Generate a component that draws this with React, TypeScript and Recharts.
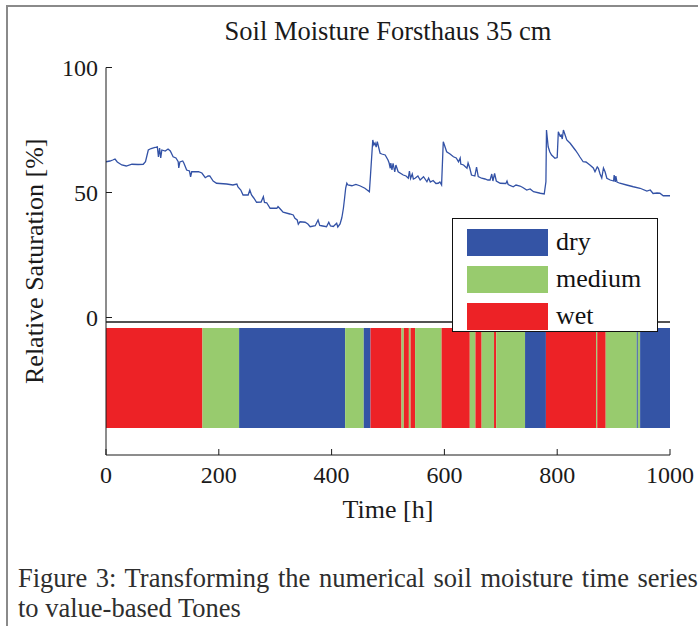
import {
  ComposedChart,
  Line,
  XAxis,
  YAxis,
  ReferenceArea,
  ReferenceLine,
  Legend,
} from "recharts";

const hours = [
  0, 7, 12, 16, 20, 28, 36, 46, 57, 66, 70, 75, 80, 87, 91, 93, 95, 97, 99, 105,
  110, 114, 119, 124, 128, 129, 131, 136, 138, 143, 148, 150, 152, 164, 170, 176, 181, 184, 190, 196,
  214, 225, 232, 234, 239, 243, 252, 255, 258, 262, 267, 275, 279, 281, 285, 291, 303, 305, 309, 314,
  326, 332, 335, 339, 341, 344, 353, 358, 362, 371, 376, 379, 382, 391, 395, 398, 403, 409, 411, 415,
  418, 419, 421, 423, 425, 427, 429, 436, 443, 450, 459, 467, 469, 473, 475, 477, 479, 481, 486, 489,
  495, 500, 502, 504, 505, 507, 509, 512, 514, 518, 527, 532, 536, 538, 540, 543, 545, 548, 553, 557,
  563, 569, 572, 575, 580, 585, 589, 592, 595, 598, 600, 604, 610, 616, 621, 625, 628, 629, 634, 640,
  642, 645, 648, 654, 657, 660, 666, 672, 677, 681, 684, 686, 689, 692, 699, 709, 711, 713, 722, 727,
  734, 739, 746, 752, 758, 770, 777, 780, 781, 784, 787, 790, 796, 800, 802, 805, 807, 809, 811, 814,
  817, 823, 832, 837, 840, 846, 851, 858, 864, 867, 871, 873, 876, 879, 882, 885, 888, 894, 900, 901,
  903, 904, 906, 911, 923, 935, 947, 959, 965, 970, 977, 982, 988, 1000,
];

// relative saturation [%]
const saturation = [
  62.3, 62.6, 63, 63.4, 62.2, 61, 60.6, 61.3, 61.2, 61.3, 62.3, 67, 67.6, 68, 68.3, 64.2, 67.8, 63.8, 67, 66.6,
  67.4, 66.6, 64.3, 63.8, 62.3, 59.8, 62.2, 62.6, 61.8, 59, 58.6, 56.3, 58.3, 58.3, 57.8, 55.9, 56.6, 56.6, 54.6, 53.7,
  53.4, 53, 53.4, 52.2, 51, 49, 49, 51, 49, 47.8, 46.1, 46.2, 48.3, 46, 45.9, 43.7, 43.7, 44.4, 43.4, 42.1,
  41.4, 41, 39.7, 39, 37.3, 38.3, 38.1, 37.4, 36.3, 36.7, 39, 36.8, 36.7, 36.3, 38.1, 36.6, 36.4, 37.7, 36.2, 37.4,
  39.8, 41, 43.8, 47.7, 51.8, 53.7, 53, 52.7, 53.2, 52.7, 51.7, 50.3, 57, 71, 69, 69.8, 68.2, 70.3, 65.7, 65.4,
  65, 63, 61.8, 59.7, 61.8, 59, 61.7, 58.2, 61, 58.3, 57, 56.6, 55.7, 58.6, 55.6, 57.4, 55.4, 55.7, 56.6, 55,
  56.3, 54.3, 55.8, 54.2, 54.8, 53.6, 53.7, 54.2, 53, 70.3, 69, 66.3, 65.4, 64.3, 63.8, 62.3, 63.8, 61.4, 61, 59.7,
  61.8, 59.8, 57, 56.6, 60.2, 56.4, 55.7, 55.4, 55, 55, 57.4, 54.6, 57.6, 54.6, 53.7, 53.6, 54.6, 53.2, 52.3, 53,
  52.6, 52, 51, 51.4, 50.3, 49.7, 49.4, 54.3, 75, 68.3, 66.2, 65, 63.7, 64, 74.3, 72.6, 73, 71.4, 75, 73,
  71, 69.7, 67, 65.4, 64.3, 62.3, 62.2, 61, 59.8, 58.3, 60.2, 59.7, 57.4, 55.8, 59.8, 58.2, 55.7, 55, 54.6, 57,
  54.2, 56.6, 54.2, 53.7, 53, 52.3, 51.7, 50.6, 51, 49.6, 49.8, 49.7, 48.7, 48.7,
];

// tone segments: boundaries [h] and the class of each segment
const toneBreaks = [
  0, 171, 236, 424, 457, 469, 524, 528, 537, 540, 548, 595, 645, 655, 666, 688, 692, 743, 780, 869, 871,
  886, 941, 943, 947, 1000,
];
const toneClass = [
  "wet", "medium", "dry", "medium", "dry", "wet", "medium", "wet", "medium", "wet", "medium", "wet",
  "medium", "wet", "medium", "wet", "medium", "dry", "wet", "medium", "wet", "medium", "dry", "medium", "dry",
];

const toneNames = ["dry", "medium", "wet"];
const toneColors: Record<string, string> = {
  dry: "#3454a5",
  medium: "#98cb6e",
  wet: "#ed2226",
};

const xTicks = [0, 200, 400, 600, 800, 1000];
const yTicks = [0, 50, 100];

const serif = '"Liberation Serif", "Times New Roman", serif';

const series = hours.map((t, i) => ({ t, v: saturation[i] }));

function ToneLegend() {
  return (
    <div
      style={{
        width: 206,
        height: 114,
        boxSizing: "border-box",
        border: "1.5px solid #111",
        background: "#fff",
        position: "relative",
        fontFamily: serif,
      }}
    >
      {toneNames.map((name, i) => (
        <div key={name}>
          <div
            style={{
              position: "absolute",
              left: 14,
              top: 10 + i * 37,
              width: 81,
              height: 27,
              background: toneColors[name],
            }}
          />
          <div
            style={{
              position: "absolute",
              left: 103,
              top: 8 + i * 37,
              fontSize: 26,
              lineHeight: "30px",
              color: "#111",
            }}
          >
            {name}
          </div>
        </div>
      ))}
    </div>
  );
}

export default function App() {
  return (
    <div
      style={{
        position: "absolute",
        left: 0,
        top: 0,
        width: 698,
        height: 626,
        overflow: "hidden",
        background: "#fff",
        fontFamily: serif,
      }}
    >
      <div
        style={{
          position: "absolute",
          left: 6,
          top: 5,
          width: 720,
          height: 700,
          borderTop: "2px solid #8a8a8a",
          borderLeft: "2px solid #8a8a8a",
        }}
      />
      <div
        style={{
          position: "absolute",
          left: 106,
          width: 564,
          top: 18,
          textAlign: "center",
          fontSize: 26.5,
          lineHeight: "26px",
          color: "#1a1a1a",
        }}
      >
        Soil Moisture Forsthaus 35 cm
      </div>

      <div style={{ position: "absolute", left: 0, top: 0, fontFamily: serif }}>
        <ComposedChart
          width={698}
          height={626}
          data={series}
          margin={{ top: 67.5, right: 28, bottom: 91, left: 0 }}
        >
          <XAxis
            type="number"
            dataKey="t"
            domain={[0, 1000]}
            ticks={xTicks}
            allowDataOverflow
            height={80}
            stroke="#1a1a1a"
            tickSize={-6}
            tickMargin={17}
            tick={{ fill: "#1a1a1a", fontSize: 24, fontFamily: serif }}
            label={{
              value: "Time [h]",
              position: "insideBottom",
              offset: 17,
              fill: "#1a1a1a",
              fontSize: 26,
              fontFamily: serif,
            }}
          />
          <YAxis
            type="number"
            domain={[-55, 100]}
            ticks={yTicks}
            allowDataOverflow
            width={106}
            stroke="#1a1a1a"
            tickSize={-6}
            tickMargin={14}
            tick={{ fill: "#1a1a1a", fontSize: 24, fontFamily: serif }}
            label={{
              value: "Relative Saturation [%]",
              angle: -90,
              position: "insideLeft",
              offset: 34,
              fill: "#1a1a1a",
              fontSize: 26,
              fontFamily: serif,
              style: { textAnchor: "middle" },
            }}
          />
          {toneClass.map((c, i) => (
            <ReferenceArea
              key={i}
              x1={toneBreaks[i]}
              x2={toneBreaks[i + 1]}
              y1={-44.2}
              y2={-4.2}
              fill={toneColors[c]}
              fillOpacity={1}
              stroke="none"
            />
          ))}
          <ReferenceLine y={-1.8} stroke="#1a1a1a" strokeWidth={1.5} />
          <Line
            type="linear"
            dataKey="v"
            stroke="#3352a6"
            strokeWidth={1.3}
            dot={false}
            isAnimationActive={false}
          />
          <Legend
            layout="vertical"
            align="center"
            verticalAlign="middle"
            wrapperStyle={{ position: "absolute", left: 452, top: 218, width: 206, height: 114 }}
            content={() => <ToneLegend />}
          />
        </ComposedChart>
      </div>

      <div
        style={{
          position: "absolute",
          left: 18,
          top: 563,
          fontSize: 26.5,
          lineHeight: "30px",
          color: "#2e2e2e",
          whiteSpace: "nowrap",
        }}
      >
        <div style={{ wordSpacing: 2 }}>
          Figure 3: Transforming the numerical soil moisture time series
        </div>
        <div>to value-based Tones</div>
      </div>
    </div>
  );
}
